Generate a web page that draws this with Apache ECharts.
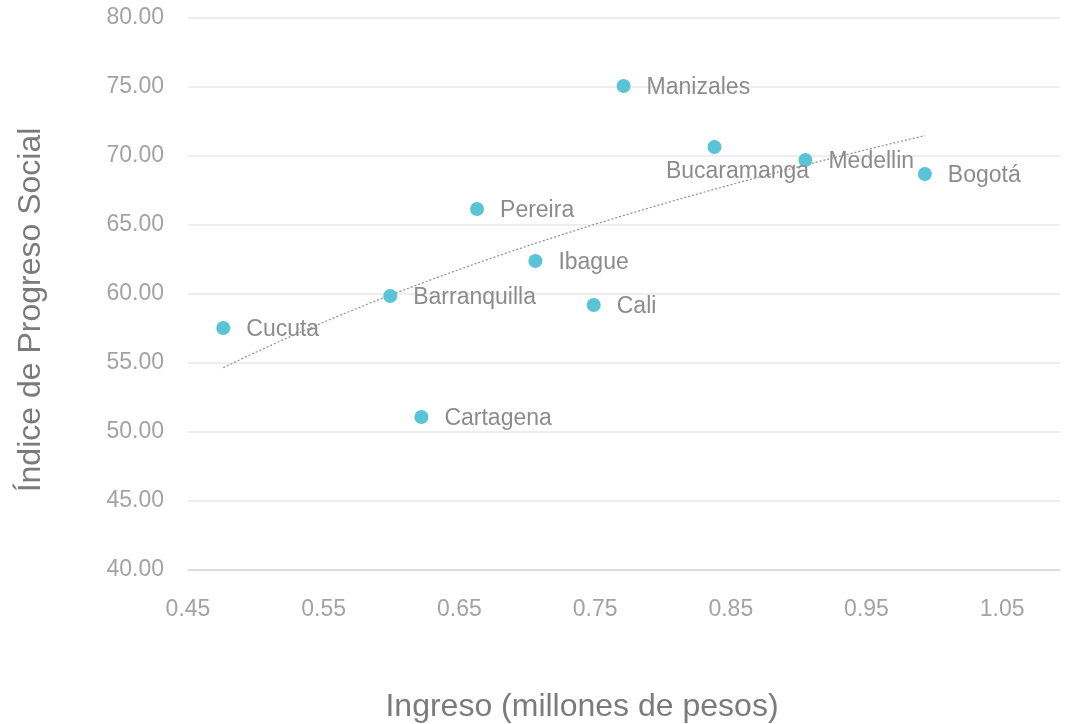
<!DOCTYPE html>
<html>
<head>
<meta charset="utf-8">
<title>Ingreso vs IPS</title>
<script src="https://cdn.jsdelivr.net/npm/echarts@6/dist/echarts.min.js"></script>
<style>
  html, body { margin: 0; padding: 0; background: #fff; }
  #chart { width: 1065px; height: 724px; }
</style>
</head>
<body>
<div id="chart"></div>
<script>
// datos
const ciudades = ['Manizales', 'Bucaramanga', 'Medellin', 'Bogotá', 'Pereira', 'Ibague', 'Barranquilla', 'Cali', 'Cucuta', 'Cartagena']
const ingreso = [0.771, 0.838, 0.905, 0.993, 0.663, 0.706, 0.599, 0.749, 0.476, 0.622]
const ips = [75.07, 70.65, 69.71, 68.70, 66.16, 62.39, 59.86, 59.20, 57.54, 51.09]

// tendencia logaritmica (y = a + b ln x) ajustada a los datos
function tendenciaLog(xs, ys) {
  const lx = xs.map(v => Math.log(v))
  const n = xs.length
  const mx = lx.reduce((s, v) => s + v, 0) / n
  const my = ys.reduce((s, v) => s + v, 0) / n
  let sxy = 0
  let sxx = 0
  for (let i = 0; i < n; i++) {
    sxy += (lx[i] - mx) * (ys[i] - my)
    sxx += (lx[i] - mx) * (lx[i] - mx)
  }
  const b = sxy / sxx
  const a = my - b * mx
  const x0 = Math.min(...xs)
  const x1 = Math.max(...xs)
  const pts = []
  for (let k = 0; k <= 60; k++) {
    const x = x0 + (x1 - x0) * k / 60
    pts.push([x, a + b * Math.log(x)])
  }
  return pts
}

const chart = echarts.init(document.getElementById('chart'))

const puntos = ciudades.map((c, i) => {
  const item = { name: c, value: [ingreso[i], ips[i]] }
  if (c === 'Bucaramanga') {
    item.label = { position: 'bottom', distance: 6, offset: [23, 0] }
  }
  return item
})

const fuente = '"Liberation Sans", Arial, sans-serif'

const option = {
  backgroundColor: '#fff',
  animation: false,
  grid: { left: 188, right: 5, top: 18, bottom: 154 },
  xAxis: {
    type: 'value',
    min: 0.45,
    max: 1.0926,
    interval: 0.1,
    axisLine: { show: true, lineStyle: { color: '#d9d9d9', width: 1.5 } },
    axisTick: { show: false },
    splitLine: { show: false },
    axisLabel: {
      showMaxLabel: false,
      margin: 28,
      color: '#a3a3a3',
      fontSize: 23,
      fontFamily: fuente,
      formatter: v => v.toFixed(2)
    }
  },
  yAxis: {
    type: 'value',
    min: 40,
    max: 80,
    interval: 5,
    axisLine: { show: false },
    axisTick: { show: false },
    splitLine: { lineStyle: { color: '#e8e8e8', width: 1.5 } },
    axisLabel: {
      margin: 24,
      color: '#a3a3a3',
      fontSize: 23,
      fontFamily: fuente,
      formatter: v => v.toFixed(2)
    }
  },
  graphic: [
    {
      type: 'text',
      x: 582,
      y: 707,
      style: {
        text: 'Ingreso (millones de pesos)',
        fill: '#7b7b7b',
        font: '32px ' + fuente,
        textAlign: 'center',
        textVerticalAlign: 'middle'
      }
    },
    {
      type: 'text',
      x: 31,
      y: 310,
      rotation: Math.PI / 2,
      style: {
        text: 'Índice de Progreso Social',
        fill: '#7b7b7b',
        font: '32px ' + fuente,
        textAlign: 'center',
        textVerticalAlign: 'middle'
      }
    }
  ],
  series: [
    {
      name: 'Tendencia',
      type: 'line',
      data: tendenciaLog(ingreso, ips),
      showSymbol: false,
      lineStyle: { color: '#8f8f8f', width: 1.2, type: [2, 2] },
      z: 1
    },
    {
      name: 'Ciudades',
      type: 'scatter',
      symbolSize: 14,
      data: puntos,
      itemStyle: { color: '#58c4d6', opacity: 1 },
      label: {
        show: true,
        position: 'right',
        distance: 16,
        offset: [0, 2],
        formatter: p => p.name,
        color: '#8c8c8c',
        fontSize: 23,
        fontFamily: fuente
      },
      z: 2
    }
  ]
}

chart.setOption(option)
</script>
</body>
</html>
